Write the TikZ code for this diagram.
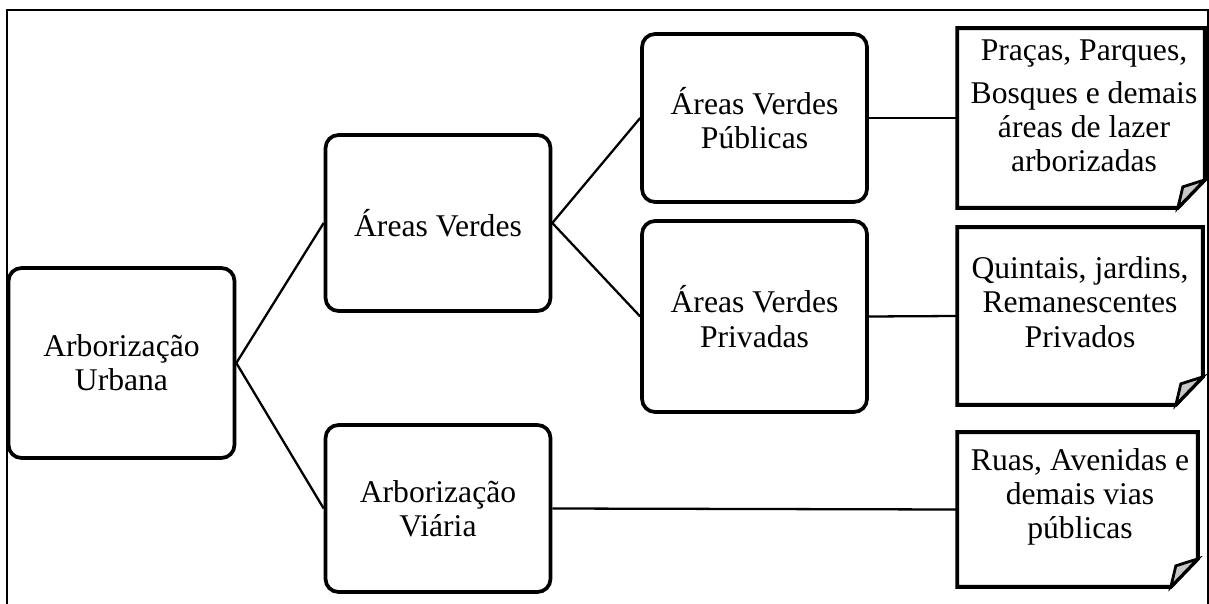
\documentclass[tikz,border=0pt]{standalone}
\usepackage{fontspec}
\setmainfont{Liberation Serif}
\tikzset{
  caixa/.style={draw, line width=2.1pt, rounded corners=0.26cm, align=center, minimum width=4.5cm},
  nota/.style={inner sep=0pt},
  texto/.style={align=center, inner sep=0pt},
  borda/.style={line width=2.2pt, line join=miter},
  dobra/.style={line width=1.6pt, fill=black!22},
  ligacao/.style={line width=1.3pt},
}
\begin{document}
\begin{tikzpicture}[x=0.02cm, y=-0.02cm, font=\fontsize{18}{19.5}\selectfont]
    \useasboundingbox (0,0) rectangle (1209,604);
    \draw[line width=1.3pt] (7,604) -- (7,10) -- (1208,10) -- (1208,604);

    % caixas
    \node[caixa, minimum width=4.52cm, minimum height=3.8cm] (urbana) at (121.5,363) {Arborização\\Urbana};
    \node[caixa, minimum height=3.52cm] (verdes) at (438,223) {Áreas Verdes};
    \node[caixa, minimum height=3.34cm] (viaria) at (438,508.5) {Arborização\\Viária};
    \node[caixa, minimum height=3.36cm] (publicas) at (754.5,118) {Áreas Verdes\\Públicas};
    \node[caixa, minimum height=3.82cm] (privadas) at (754.5,316.5) {Áreas Verdes\\Privadas};

    % notas
    \node[nota, minimum width=4.94cm, minimum height=3.58cm] (pracas) at (1081,118) {};
    \node[nota, minimum width=4.9cm, minimum height=3.54cm] (quintais) at (1080,316) {};
    \node[nota, minimum width=4.8cm, minimum height=3.08cm] (ruas) at (1077.5,509.5) {};
    \foreach \n in {pracas,quintais,ruas}{
        \draw[borda] (\n.north west) -- (\n.north east) -- ([yshift=0.56cm]\n.south east)
            -- ([xshift=-0.54cm]\n.south east) -- (\n.south west) -- cycle;
        \draw[dobra] ([xshift=-0.54cm]\n.south east) -- ([xshift=-0.44cm,yshift=0.42cm]\n.south east)
            -- ([yshift=0.56cm]\n.south east) -- cycle;
    }
    \node[texto] (pracastxt) at (1084,106) {Praças, Parques,\\[5pt]Bosques e demais\\áreas de lazer\\arborizadas};
    \node[texto] (quintaistxt) at (1080,302) {Quintais, jardins,\\Remanescentes\\Privados};
    \node[texto] (ruastxt) at (1080,497) {Ruas, Avenidas e\\demais vias\\públicas};

    % ligacoes
    \draw[ligacao] (urbana.east) -- (verdes.west);
    \draw[ligacao] (urbana.east) -- (viaria.west);
    \draw[ligacao] (verdes.east) -- (publicas.west);
    \draw[ligacao] (verdes.east) -- (privadas.west);
    \draw[ligacao] (publicas.east) -- (pracas.west);
    \draw[ligacao] (privadas.east) -- (quintais.west);
    \draw[ligacao] (viaria.east) -- (ruas.west);
\end{tikzpicture}
\end{document}
